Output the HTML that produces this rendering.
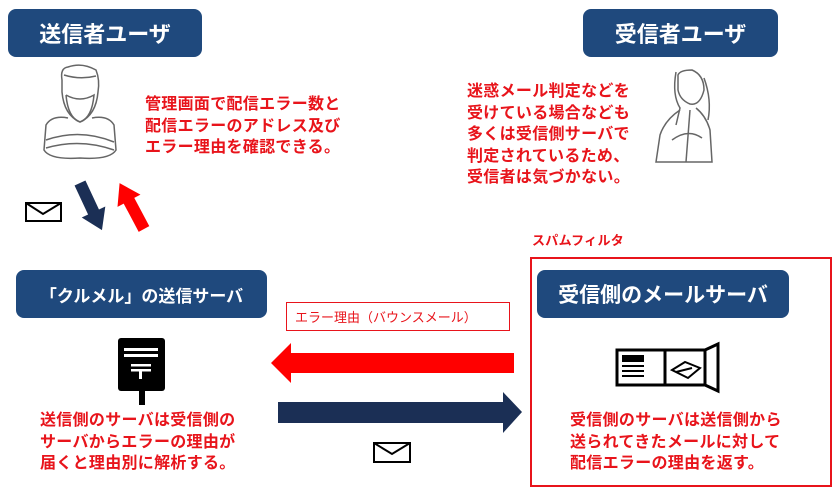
<!DOCTYPE html>
<html><head><meta charset="utf-8"><style>
body{margin:0;width:835px;height:486px;background:#fff;position:relative;overflow:hidden;font-family:"Liberation Sans","Noto Sans CJK JP",sans-serif}
.a{position:absolute}
.hd{position:absolute;background:#1f497d;color:#fff;border-radius:8px;font-weight:bold;display:flex;align-items:center;justify-content:center}
.rt{position:absolute;color:#e8141b;font-weight:bold;font-size:16px;line-height:21.5px;white-space:nowrap;letter-spacing:.3px}
</style></head><body>
<div class="hd" style="left:8px;top:9px;width:194px;height:48px;font-size:22px">送信者ユーザ</div>
<div class="hd" style="left:583px;top:9px;width:195px;height:48px;font-size:22px">受信者ユーザ</div>
<div class="hd" style="left:16px;top:270px;width:251px;height:48px;font-size:17px">「クルメル」の送信サーバ</div>
<div class="a" style="left:530px;top:257px;width:298px;height:226px;border:2px solid #e8141b"></div>
<div class="hd" style="left:537px;top:270px;width:252px;height:48px;font-size:21px">受信側のメールサーバ</div>
<div class="a" style="left:286px;top:302px;width:224px;height:29px;border:1.5px solid #e8141b;color:#e8141b;font-size:13px;line-height:29px;padding-left:8px;box-sizing:border-box">エラー理由（バウンスメール）</div>
<div class="rt" style="left:532px;top:230px;font-size:13px">スパムフィルタ</div>
<div class="rt" style="left:145px;top:94px">管理画面で配信エラー数と<br>配信エラーのアドレス及び<br>エラー理由を確認できる。</div>
<div class="rt" style="left:467px;top:81px">迷惑メール判定などを<br>受けている場合なども<br>多くは受信側サーバで<br>判定されているため、<br>受信者は気づかない。</div>
<div class="rt" style="left:40px;top:410px">送信側のサーバは受信側の<br>サーバからエラーの理由が<br>届くと理由別に解析する。</div>
<div class="rt" style="left:570px;top:410px">受信側のサーバは送信側から<br>送られてきたメールに対して<br>配信エラーの理由を返す。</div>
<svg class="a" style="left:0;top:0" width="835" height="486">
<polygon points="514,353 291,353 291,343 271,363 291,383 291,373 514,373" fill="#ff0000"/>
<polygon points="278,402 503,402 503,392 522,412 503,433 503,423 278,423" fill="#1b2f55"/>
<polygon transform="translate(80,183) rotate(-25)" points="-6,0 6,0 6,32 13,32 0,52 -13,32 -6,32" fill="#1b2f55"/>
<polygon transform="translate(144,229) rotate(-28)" points="-6,0 6,0 6,-32 13,-32 0,-52 -13,-32 -6,-32" fill="#ff0000"/>
<g fill="#fff" stroke="#000" stroke-width="2"><rect x="26" y="203" width="35" height="18"/><polyline points="26,203 43,214 61,203" fill="none"/>
<rect x="374" y="443" width="36" height="19"/><polyline points="374,443 392,454 410,443" fill="none"/></g>
<rect x="118" y="338" width="47" height="53" rx="3" fill="#000"/><rect x="139" y="390" width="6" height="15" fill="#000"/>
<rect x="124" y="348" width="34" height="3" fill="#fff"/><rect x="124" y="354" width="34" height="3" fill="#fff"/>
<rect x="131" y="364" width="20" height="2.5" fill="#fff"/><rect x="131" y="369" width="20" height="2.5" fill="#fff"/><rect x="139" y="369" width="3" height="10" fill="#fff"/>
<g stroke="#000" stroke-width="3" fill="#fff"><rect x="617" y="350" width="48" height="35"/><rect x="665" y="350" width="40" height="35"/><polyline points="705,385 718,391 718,344 705,350" fill="none"/></g>
<rect x="622" y="355" width="22" height="7" fill="#000"/><g fill="#000"><rect x="622" y="365" width="22" height="2"/><rect x="622" y="370" width="22" height="2"/><rect x="622" y="375" width="22" height="2"/></g>
<g stroke="#000" stroke-width="2" fill="none"><polygon points="672,370 685,362 700,368 688,378"/><line x1="676" y1="372" x2="692" y2="368"/></g>
<g stroke="#666" stroke-width="1.5" fill="none">
<path d="M62,80 Q60,68 68,67 Q82,62 96,70 Q100,80 98,92 Q96,115 80,122 Q64,115 62,92 Z"/>
<path d="M64,75 Q80,80 96,76"/><path d="M66,95 Q80,103 94,95 Q92,118 80,122 Q68,118 66,95"/>
<path d="M68,118 Q52,115 46,125 L44,150 Q50,160 80,158 Q110,160 116,150 L114,125 Q108,115 92,118"/>
<path d="M46,140 Q80,128 114,142"/><path d="M46,148 Q80,138 114,150"/>
</g>
<g stroke="#666" stroke-width="1.5" fill="none">
<path d="M678,75 Q680,70 692,70 Q704,75 704,90 Q700,106 690,104 Q680,100 678,90 Z"/>
<path d="M676,72 Q672,95 680,108 L676,125"/><path d="M704,78 Q712,100 708,120"/>
<path d="M680,110 Q665,120 660,135 L656,162 L712,162 L710,130 Q706,116 696,108"/>
<path d="M690,110 L686,162"/><path d="M672,140 Q688,128 702,138"/>
</g>
</svg>
</body></html>
